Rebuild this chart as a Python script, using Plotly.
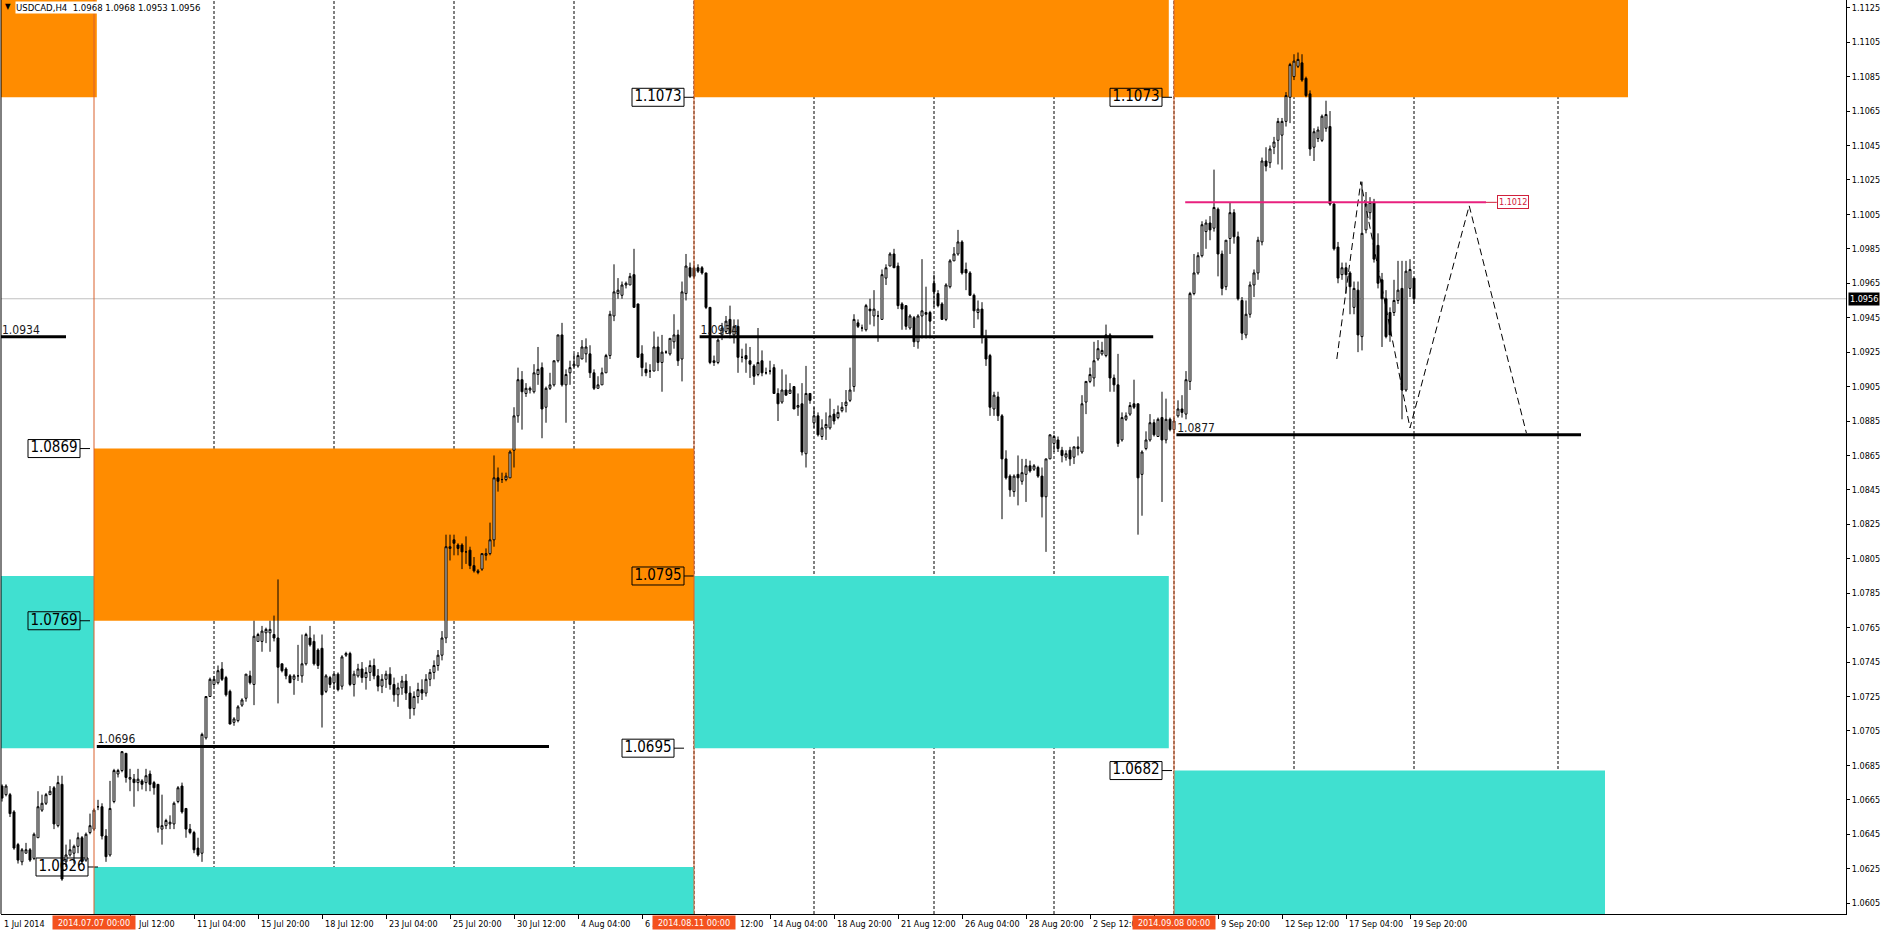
import plotly.graph_objects as go

# ---------------- data (USDCAD, H4) ----------------
bar_index = list(range(355))

open_ = [
    1.0668, 1.0673, 1.0668, 1.0668, 1.0658, 1.0639, 1.0629, 1.0634, 1.0636, 1.0631,
    1.0643, 1.0659, 1.0663, 1.0668, 1.0672, 1.0650, 1.0674, 1.0629, 1.0633, 1.0634,
    1.0638, 1.0643, 1.0630, 1.0646, 1.0648, 1.0661, 1.0661, 1.0644, 1.0633, 1.0664,
    1.0680, 1.0682, 1.0692, 1.0677, 1.0677, 1.0675, 1.0676, 1.0675, 1.0680, 1.0675,
    1.0674, 1.0648, 1.0650, 1.0651, 1.0651, 1.0664, 1.0673, 1.0660, 1.0648, 1.0646,
    1.0637, 1.0634, 1.0701, 1.0725, 1.0732, 1.0733, 1.0741, 1.0736, 1.0728, 1.0710,
    1.0711, 1.0720, 1.0724, 1.0737, 1.0732, 1.0757, 1.0757, 1.0762, 1.0762, 1.0761,
    1.0759, 1.0744, 1.0741, 1.0737, 1.0735, 1.0737, 1.0737, 1.0744, 1.0759, 1.0757,
    1.0752, 1.0753, 1.0728, 1.0736, 1.0733, 1.0738, 1.0731, 1.0749, 1.0750, 1.0732,
    1.0737, 1.0741, 1.0736, 1.0739, 1.0743, 1.0737, 1.0731, 1.0735, 1.0738, 1.0732,
    1.0726, 1.0730, 1.0734, 1.0727, 1.0718, 1.0725, 1.0729, 1.0727, 1.0735, 1.0739,
    1.0743, 1.0749, 1.0759, 1.0811, 1.0816, 1.0813, 1.0813, 1.0809, 1.0810, 1.0801,
    1.0797, 1.0799, 1.0807, 1.0808, 1.0816, 1.0852, 1.0851, 1.0851, 1.0852, 1.0868,
    1.0888, 1.0909, 1.0901, 1.0903, 1.0902, 1.0912, 1.0916, 1.0893, 1.0904, 1.0906,
    1.0920, 1.0935, 1.0906, 1.0913, 1.0917, 1.0917, 1.0921, 1.0924, 1.0924, 1.0913,
    1.0904, 1.0906, 1.0913, 1.0923, 1.0946, 1.0959, 1.0958, 1.0964, 1.0964, 1.0970,
    1.0953, 1.0924, 1.0915, 1.0914, 1.0914, 1.0928, 1.0919, 1.0925, 1.0924, 1.0931,
    1.0935, 1.0921, 1.0959, 1.0974, 1.0974, 1.0974, 1.0974, 1.0971, 1.0951, 1.0919,
    1.0919, 1.0935, 1.0937, 1.0944, 1.0935, 1.0940, 1.0922, 1.0923, 1.0920, 1.0917,
    1.0912, 1.0920, 1.0913, 1.0914, 1.0916, 1.0901, 1.0896, 1.0903, 1.0901, 1.0905,
    1.0893, 1.0895, 1.0866, 1.0901, 1.0884, 1.0888, 1.0876, 1.0881, 1.0881, 1.0889,
    1.0887, 1.0891, 1.0894, 1.0897, 1.0905, 1.0942, 1.0939, 1.0938, 1.0950, 1.0946,
    1.0946, 1.0944, 1.0968, 1.0975, 1.0982, 1.0975, 1.0953, 1.0952, 1.0939, 1.0945,
    1.0931, 1.0946, 1.0948, 1.0948, 1.0965, 1.0959, 1.0953, 1.0944, 1.0963, 1.0978,
    1.0982, 1.0989, 1.0973, 1.0971, 1.0958, 1.0948, 1.0950, 1.0933, 1.0923, 1.0892,
    1.0899, 1.0888, 1.0863, 1.0853, 1.0844, 1.0854, 1.0850, 1.0854, 1.0859, 1.0857,
    1.0858, 1.0853, 1.0841, 1.0863, 1.0872, 1.0874, 1.0868, 1.0864, 1.0868, 1.0864,
    1.0869, 1.0867, 1.0896, 1.0908, 1.0910, 1.0921, 1.0924, 1.0923, 1.0935, 1.0910,
    1.0906, 1.0874, 1.0886, 1.0889, 1.0895, 1.0895, 1.0854, 1.0869, 1.0874, 1.0884,
    1.0876, 1.0887, 1.0874, 1.0886, 1.0880, 1.0888, 1.0892, 1.0889, 1.0908, 1.0959,
    1.0971, 1.0981, 1.0995, 1.1000, 1.0997, 1.1008, 1.0982, 1.0963, 1.0991, 1.1006,
    1.0992, 1.0955, 1.0935, 1.0947, 1.0964, 1.0971, 1.0989, 1.1036, 1.1035, 1.1044,
    1.1048, 1.1051, 1.1059, 1.1073, 1.1085, 1.1091, 1.1093, 1.1084, 1.1075, 1.1044,
    1.1049, 1.1048, 1.1055, 1.1056, 1.1011, 1.0986, 1.0970, 1.0974, 1.0971, 1.0951,
    1.0961, 1.0934, 1.0996, 1.1006, 1.1012, 1.0987, 1.0967, 1.0956, 1.0948, 1.0948,
    1.0955, 1.0962, 1.0903, 1.0962, 1.0968,
]

high_ = [
    1.0675, 1.0674, 1.0674, 1.0669, 1.0659, 1.0640, 1.0637, 1.0640, 1.0637, 1.0646,
    1.0670, 1.0668, 1.0669, 1.0673, 1.0673, 1.0679, 1.0679, 1.0639, 1.0642, 1.0639,
    1.0646, 1.0644, 1.0646, 1.0657, 1.0660, 1.0665, 1.0663, 1.0648, 1.0676, 1.0683,
    1.0683, 1.0693, 1.0692, 1.0683, 1.0680, 1.0683, 1.0677, 1.0683, 1.0682, 1.0676,
    1.0674, 1.0668, 1.0654, 1.0656, 1.0664, 1.0673, 1.0675, 1.0660, 1.0651, 1.0647,
    1.0643, 1.0704, 1.0725, 1.0736, 1.0737, 1.0743, 1.0745, 1.0737, 1.0729, 1.0713,
    1.0720, 1.0724, 1.0738, 1.0740, 1.0769, 1.0762, 1.0766, 1.0765, 1.0769, 1.0772,
    1.0793, 1.0744, 1.0742, 1.0738, 1.0738, 1.0755, 1.0761, 1.0762, 1.0766, 1.0761,
    1.0753, 1.0761, 1.0738, 1.0737, 1.0738, 1.0739, 1.0749, 1.0751, 1.0751, 1.0740,
    1.0744, 1.0745, 1.0742, 1.0746, 1.0747, 1.0741, 1.0738, 1.0740, 1.0742, 1.0736,
    1.0733, 1.0737, 1.0738, 1.0731, 1.0728, 1.0733, 1.0735, 1.0738, 1.0741, 1.0746,
    1.0752, 1.0763, 1.0819, 1.0819, 1.0819, 1.0814, 1.0814, 1.0818, 1.0812, 1.0806,
    1.0799, 1.0808, 1.0811, 1.0826, 1.0865, 1.0858, 1.0855, 1.0855, 1.0868, 1.0893,
    1.0916, 1.0914, 1.0907, 1.0905, 1.0918, 1.0928, 1.0919, 1.0905, 1.0913, 1.0920,
    1.0935, 1.0942, 1.0915, 1.0920, 1.0924, 1.0925, 1.0932, 1.0933, 1.0929, 1.0915,
    1.0911, 1.0916, 1.0924, 1.0949, 1.0976, 1.0968, 1.0966, 1.0966, 1.0971, 1.0985,
    1.0953, 1.0929, 1.0919, 1.0918, 1.0937, 1.0934, 1.0935, 1.0926, 1.0933, 1.0947,
    1.0938, 1.0966, 1.0982, 1.0977, 1.0976, 1.0976, 1.0975, 1.0971, 1.0951, 1.0923,
    1.0933, 1.0942, 1.0946, 1.0952, 1.0944, 1.0944, 1.0927, 1.0930, 1.0928, 1.0918,
    1.0939, 1.0926, 1.0916, 1.0920, 1.0918, 1.0904, 1.0915, 1.0912, 1.0907, 1.0905,
    1.0901, 1.0907, 1.0917, 1.0901, 1.0893, 1.0890, 1.0886, 1.0890, 1.0898, 1.0892,
    1.0894, 1.0896, 1.0903, 1.0916, 1.0947, 1.0944, 1.0941, 1.0953, 1.0956, 1.0961,
    1.0949, 1.0973, 1.0976, 1.0983, 1.0985, 1.0977, 1.0954, 1.0952, 1.0947, 1.0946,
    1.0947, 1.0979, 1.0963, 1.0949, 1.0970, 1.0961, 1.0954, 1.0965, 1.0979, 1.0986,
    1.0996, 1.0990, 1.0977, 1.0972, 1.0959, 1.0955, 1.0954, 1.0938, 1.0924, 1.0902,
    1.0902, 1.0889, 1.0868, 1.0854, 1.0854, 1.0865, 1.0863, 1.0863, 1.0862, 1.0860,
    1.0859, 1.0858, 1.0863, 1.0877, 1.0877, 1.0876, 1.0870, 1.0868, 1.0870, 1.0870,
    1.0876, 1.0900, 1.0908, 1.0916, 1.0931, 1.0932, 1.0931, 1.0941, 1.0936, 1.0912,
    1.0924, 1.0890, 1.0890, 1.0896, 1.0909, 1.0895, 1.0868, 1.0879, 1.0889, 1.0886,
    1.0887, 1.0902, 1.0898, 1.0887, 1.0887, 1.0897, 1.0900, 1.0914, 1.0960, 1.0982,
    1.0983, 1.1001, 1.1002, 1.1004, 1.1031, 1.1009, 1.0984, 1.0990, 1.1012, 1.1008,
    1.0995, 1.0957, 1.0955, 1.0966, 1.0973, 1.0992, 1.1038, 1.1044, 1.1045, 1.1050,
    1.1061, 1.1061, 1.1076, 1.1093, 1.1098, 1.1099, 1.1098, 1.1085, 1.1077, 1.1055,
    1.1056, 1.1063, 1.1071, 1.1065, 1.1012, 1.0989, 1.0977, 1.0977, 1.0972, 1.0966,
    1.0966, 1.1024, 1.1018, 1.1015, 1.1014, 1.0994, 1.0971, 1.0961, 1.0951, 1.0967,
    1.0978, 1.0978, 1.0978, 1.0979, 1.0968,
]

low_ = [
    1.0665, 1.0664, 1.0667, 1.0655, 1.0636, 1.0628, 1.0627, 1.0634, 1.0629, 1.0630,
    1.0643, 1.0658, 1.0662, 1.0668, 1.0648, 1.0649, 1.0618, 1.0626, 1.0632, 1.0628,
    1.0634, 1.0628, 1.0629, 1.0645, 1.0647, 1.0659, 1.0642, 1.0629, 1.0632, 1.0663,
    1.0678, 1.0681, 1.0675, 1.0670, 1.0661, 1.0670, 1.0671, 1.0670, 1.0670, 1.0668,
    1.0646, 1.0639, 1.0648, 1.0648, 1.0648, 1.0663, 1.0657, 1.0643, 1.0645, 1.0634,
    1.0632, 1.0629, 1.0700, 1.0725, 1.0731, 1.0732, 1.0734, 1.0725, 1.0709, 1.0708,
    1.0710, 1.0719, 1.0722, 1.0732, 1.0720, 1.0757, 1.0751, 1.0756, 1.0751, 1.0757,
    1.0721, 1.0739, 1.0735, 1.0733, 1.0726, 1.0734, 1.0733, 1.0743, 1.0754, 1.0743,
    1.0741, 1.0707, 1.0727, 1.0730, 1.0729, 1.0728, 1.0729, 1.0748, 1.0731, 1.0725,
    1.0736, 1.0733, 1.0729, 1.0734, 1.0735, 1.0728, 1.0727, 1.0730, 1.0729, 1.0722,
    1.0719, 1.0726, 1.0723, 1.0712, 1.0714, 1.0721, 1.0723, 1.0725, 1.0731, 1.0735,
    1.0740, 1.0746, 1.0756, 1.0804, 1.0807, 1.0807, 1.0799, 1.0802, 1.0799, 1.0797,
    1.0796, 1.0798, 1.0804, 1.0807, 1.0812, 1.0844, 1.0849, 1.0850, 1.0852, 1.0858,
    1.0884, 1.0880, 1.0899, 1.0901, 1.0901, 1.0906, 1.0875, 1.0884, 1.0903, 1.0905,
    1.0919, 1.0905, 1.0884, 1.0906, 1.0916, 1.0916, 1.0921, 1.0919, 1.0910, 1.0903,
    1.0904, 1.0906, 1.0913, 1.0921, 1.0943, 1.0956, 1.0956, 1.0962, 1.0964, 1.0951,
    1.0922, 1.0911, 1.0911, 1.0910, 1.0914, 1.0914, 1.0902, 1.0924, 1.0923, 1.0927,
    1.0917, 1.0908, 1.0955, 1.0968, 1.0968, 1.0971, 1.0970, 1.0950, 1.0918, 1.0917,
    1.0918, 1.0932, 1.0936, 1.0933, 1.0930, 1.0913, 1.0919, 1.0913, 1.0910, 1.0906,
    1.0911, 1.0911, 1.0912, 1.0912, 1.0901, 1.0885, 1.0895, 1.0900, 1.0901, 1.0892,
    1.0888, 1.0865, 1.0858, 1.0895, 1.0881, 1.0876, 1.0874, 1.0874, 1.0880, 1.0883,
    1.0886, 1.0890, 1.0890, 1.0896, 1.0902, 1.0939, 1.0937, 1.0937, 1.0941, 1.0940,
    1.0931, 1.0944, 1.0964, 1.0975, 1.0974, 1.0950, 1.0938, 1.0938, 1.0938, 1.0928,
    1.0927, 1.0933, 1.0933, 1.0933, 1.0951, 1.0951, 1.0944, 1.0943, 1.0962, 1.0978,
    1.0981, 1.0970, 1.0961, 1.0958, 1.0939, 1.0944, 1.0930, 1.0917, 1.0888, 1.0888,
    1.0885, 1.0828, 1.0851, 1.0841, 1.0841, 1.0836, 1.0848, 1.0838, 1.0855, 1.0856,
    1.0852, 1.0829, 1.0809, 1.0863, 1.0867, 1.0867, 1.0861, 1.0862, 1.0859, 1.0860,
    1.0865, 1.0866, 1.0889, 1.0907, 1.0905, 1.0920, 1.0923, 1.0922, 1.0902, 1.0902,
    1.0870, 1.0873, 1.0885, 1.0888, 1.0892, 1.0819, 1.0830, 1.0868, 1.0873, 1.0876,
    1.0876, 1.0838, 1.0872, 1.0879, 1.0878, 1.0887, 1.0887, 1.0886, 1.0903, 1.0958,
    1.0970, 1.0980, 1.0985, 1.0990, 1.0995, 1.0969, 1.0958, 1.0961, 1.0982, 1.0988,
    1.0955, 1.0932, 1.0933, 1.0945, 1.0957, 1.0967, 1.0987, 1.1030, 1.1032, 1.1040,
    1.1034, 1.1031, 1.1056, 1.1058, 1.1083, 1.1090, 1.1082, 1.1073, 1.1039, 1.1036,
    1.1047, 1.1047, 1.1053, 1.1010, 1.0984, 1.0965, 1.0967, 1.0959, 1.0947, 1.0947,
    1.0925, 1.0926, 1.0994, 1.1002, 1.0977, 1.0962, 1.0928, 1.0933, 1.0931, 1.0946,
    1.0953, 1.0886, 1.0902, 1.0957, 1.0953,
]

close_ = [
    1.0673, 1.0666, 1.0673, 1.0657, 1.0637, 1.0630, 1.0636, 1.0636, 1.0630, 1.0645,
    1.0661, 1.0663, 1.0668, 1.0670, 1.0651, 1.0675, 1.0619, 1.0633, 1.0636, 1.0638,
    1.0643, 1.0629, 1.0645, 1.0650, 1.0659, 1.0661, 1.0644, 1.0632, 1.0660, 1.0682,
    1.0682, 1.0693, 1.0678, 1.0678, 1.0675, 1.0677, 1.0674, 1.0679, 1.0674, 1.0672,
    1.0649, 1.0650, 1.0653, 1.0652, 1.0663, 1.0672, 1.0658, 1.0648, 1.0646, 1.0636,
    1.0633, 1.0703, 1.0725, 1.0735, 1.0735, 1.0740, 1.0735, 1.0726, 1.0709, 1.0712,
    1.0719, 1.0723, 1.0738, 1.0733, 1.0760, 1.0761, 1.0763, 1.0764, 1.0764, 1.0759,
    1.0742, 1.0740, 1.0737, 1.0733, 1.0737, 1.0737, 1.0744, 1.0761, 1.0755, 1.0744,
    1.0743, 1.0726, 1.0737, 1.0732, 1.0738, 1.0729, 1.0748, 1.0750, 1.0732, 1.0738,
    1.0741, 1.0736, 1.0739, 1.0743, 1.0737, 1.0731, 1.0735, 1.0738, 1.0732, 1.0726,
    1.0730, 1.0734, 1.0727, 1.0718, 1.0725, 1.0729, 1.0727, 1.0735, 1.0739, 1.0743,
    1.0749, 1.0759, 1.0812, 1.0812, 1.0814, 1.0811, 1.0809, 1.0809, 1.0801, 1.0798,
    1.0798, 1.0808, 1.0808, 1.0816, 1.0852, 1.0850, 1.0851, 1.0853, 1.0867, 1.0888,
    1.0909, 1.0902, 1.0904, 1.0904, 1.0913, 1.0915, 1.0892, 1.0904, 1.0906, 1.0920,
    1.0935, 1.0906, 1.0912, 1.0916, 1.0918, 1.0923, 1.0928, 1.0928, 1.0913, 1.0904,
    1.0906, 1.0913, 1.0923, 1.0947, 1.0960, 1.0961, 1.0964, 1.0965, 1.0969, 1.0951,
    1.0922, 1.0916, 1.0913, 1.0914, 1.0928, 1.0919, 1.0925, 1.0925, 1.0933, 1.0935,
    1.0920, 1.0960, 1.0975, 1.0969, 1.0969, 1.0972, 1.0971, 1.0951, 1.0919, 1.0920,
    1.0932, 1.0939, 1.0943, 1.0936, 1.0940, 1.0922, 1.0922, 1.0921, 1.0918, 1.0911,
    1.0919, 1.0913, 1.0913, 1.0914, 1.0901, 1.0895, 1.0903, 1.0900, 1.0903, 1.0892,
    1.0894, 1.0867, 1.0901, 1.0897, 1.0888, 1.0877, 1.0881, 1.0883, 1.0888, 1.0885,
    1.0890, 1.0893, 1.0896, 1.0903, 1.0944, 1.0940, 1.0939, 1.0952, 1.0949, 1.0950,
    1.0946, 1.0970, 1.0974, 1.0982, 1.0974, 1.0952, 1.0950, 1.0940, 1.0946, 1.0931,
    1.0946, 1.0949, 1.0947, 1.0943, 1.0960, 1.0952, 1.0944, 1.0964, 1.0978, 1.0982,
    1.0989, 1.0971, 1.0971, 1.0958, 1.0949, 1.0950, 1.0934, 1.0921, 1.0893, 1.0900,
    1.0888, 1.0863, 1.0852, 1.0845, 1.0853, 1.0852, 1.0855, 1.0859, 1.0856, 1.0859,
    1.0853, 1.0841, 1.0863, 1.0877, 1.0876, 1.0869, 1.0865, 1.0866, 1.0863, 1.0870,
    1.0870, 1.0895, 1.0908, 1.0912, 1.0920, 1.0927, 1.0926, 1.0935, 1.0910, 1.0906,
    1.0872, 1.0887, 1.0888, 1.0894, 1.0893, 1.0852, 1.0867, 1.0874, 1.0884, 1.0877,
    1.0886, 1.0874, 1.0886, 1.0880, 1.0885, 1.0892, 1.0890, 1.0909, 1.0959, 1.0971,
    1.0981, 1.0999, 1.1000, 1.0996, 1.1009, 1.0982, 1.0962, 1.0990, 1.1006, 1.0992,
    1.0956, 1.0936, 1.0947, 1.0964, 1.0971, 1.0990, 1.1036, 1.1033, 1.1043, 1.1047,
    1.1059, 1.1059, 1.1074, 1.1092, 1.1094, 1.1095, 1.1083, 1.1074, 1.1043, 1.1053,
    1.1054, 1.1062, 1.1063, 1.1011, 1.0985, 1.0968, 1.0974, 1.0970, 1.0963, 1.0962,
    1.0935, 1.0994, 1.1011, 1.1012, 1.0979, 1.0965, 1.0956, 1.0934, 1.0935, 1.0955,
    1.0961, 1.0903, 1.0972, 1.0973, 1.0956,
]

# time axis labels (bar index -> text as visible in the reference;
# labels partly covered by the vertical-line date boxes keep only their visible part)
time_tick_bars = [33, 49, 65, 81, 97, 113, 129, 145, 161, 177, 193, 209, 225,
                  241, 257, 273, 289, 305, 321, 337, 353]
time_tick_text = ["Jul 12:00", "11 Jul 04:00", "15 Jul 20:00", "18 Jul 12:00",
                  "23 Jul 04:00", "25 Jul 20:00", "30 Jul 12:00", "4 Aug 04:00",
                  "6 A", "12:00", "14 Aug 04:00", "18 Aug 20:00",
                  "21 Aug 12:00", "26 Aug 04:00", "28 Aug 20:00", "2 Sep 12:0",
                  "", "9 Sep 20:00", "12 Sep 12:00", "17 Sep 04:00",
                  "19 Sep 20:00"]
first_time_label = "1 Jul 2014"

# price axis labels
price_ticks = [1.0605, 1.0625, 1.0645, 1.0665, 1.0685, 1.0705, 1.0725, 1.0745,
               1.0765, 1.0785, 1.0805, 1.0825, 1.0845, 1.0865, 1.0885, 1.0905,
               1.0925, 1.0945, 1.0965, 1.0985, 1.1005, 1.1025, 1.1045, 1.1065,
               1.1085, 1.1105, 1.1125]

# supply (orange) and demand (turquoise) zones: start bar, end bar, low, high
supply_start = [-2, 24, 174, 294]
supply_end = [24.7, 174, 292.7, 407.5]
supply_low = [1.1073, 1.0769, 1.1073, 1.1073]
supply_high = [1.1200, 1.0869, 1.1200, 1.1200]
demand_start = [-2, 24, 174, 294]
demand_end = [24, 174, 292.7, 401.75]
demand_low = [1.0695, 1.0500, 1.0695, 1.0500]
demand_high = [1.0795, 1.0626, 1.0795, 1.0682]

# price-label objects: price and anchor bar
plabel_price = [1.0869, 1.0769, 1.0626, 1.1073, 1.0795, 1.0695, 1.1073, 1.0682]
plabel_bar = [23, 23, 25, 174, 174, 171.5, 293.5, 293.5]

# month start vertical lines
month_bars = [24, 174, 294]
month_text = ["2014.07.07 00:00", "2014.08.11 00:00", "2014.09.08 00:00"]
# weekly separators
week_bars = [54, 84, 114, 144, 174, 204, 234, 264, 294, 324, 354, 390]

# horizontal levels
level_price = [1.0934, 1.0696, 1.0934, 1.0877]
level_start = [0, 24.7, 175.4, 294.6]
level_end = [17, 137.75, 288.8, 395.75]
level_text = ["1.0934", "1.0696", "1.0934", "1.0877"]
level_text_bar = [1.0, 24.9, 175.6, 294.8]

target_price = 1.1012
target_start = 296.8
target_end = 372

# projected zig-zag path
zigzag_bars = [334.7, 340.7, 353.0, 367.8, 382.1]
zigzag_prices = [1.0921, 1.1024, 1.0881, 1.1010, 1.0878]

current_price = 1.0956
header_text = "USDCAD,H4\u00a0\u00a01.0968 1.0968 1.0953 1.0956"

# ---------------- figure ----------------
FONT = "DejaVu Sans Condensed, DejaVu Sans, sans-serif"
ORANGE = "#FF8C00"
TURQ = "#40E0D0"
VLINE = "#D9602C"
VLABEL = "#F4511E"

fig = go.Figure()

shapes = []
for x0, x1, lo, hi in zip(supply_start, supply_end, supply_low, supply_high):
    shapes.append(dict(type="rect", xref="x", yref="y", x0=x0, x1=x1, y0=lo, y1=hi,
                       fillcolor=ORANGE, line=dict(width=0), layer="below"))
for x0, x1, lo, hi in zip(demand_start, demand_end, demand_low, demand_high):
    shapes.append(dict(type="rect", xref="x", yref="y", x0=x0, x1=x1, y0=lo, y1=hi,
                       fillcolor=TURQ, line=dict(width=0), layer="below"))
for b in week_bars:
    shapes.append(dict(type="line", xref="x", yref="paper", x0=b, x1=b, y0=0, y1=1,
                       line=dict(color="black", width=1, dash="3px,2px"), layer="below"))
shapes.append(dict(type="line", xref="paper", yref="y", x0=0, x1=1,
                   y0=current_price, y1=current_price,
                   line=dict(color="#C0C0C0", width=1), layer="below"))
for p, b in zip(plabel_price, plabel_bar):
    shapes.append(dict(type="rect", xref="x", yref="y", xsizemode="pixel", ysizemode="pixel",
                       xanchor=b, yanchor=p, x0=-62, x1=-10, y0=-9, y1=9,
                       line=dict(color="black", width=1), fillcolor="rgba(0,0,0,0)",
                       layer="below"))
    shapes.append(dict(type="line", xref="x", yref="y", x0=b - 2.5, x1=b, y0=p, y1=p,
                       line=dict(color="black", width=1), layer="below"))
for b in month_bars:
    shapes.append(dict(type="line", xref="x", yref="paper", x0=b, x1=b, y0=0, y1=1,
                       line=dict(color=VLINE, width=1), layer="above"))
for p, x0, x1 in zip(level_price, level_start, level_end):
    shapes.append(dict(type="line", xref="x", yref="y", x0=x0, x1=x1, y0=p, y1=p,
                       line=dict(color="black", width=3), layer="above"))
shapes.append(dict(type="line", xref="x", yref="y", x0=target_start, x1=target_end,
                   y0=target_price, y1=target_price,
                   line=dict(color="#E8207E", width=2), layer="above"))
shapes.append(dict(type="line", xref="x", yref="y", x0=target_end, x1=target_end + 2.7,
                   y0=target_price, y1=target_price,
                   line=dict(color="#D0203C", width=1), layer="above"))
shapes.append(dict(type="line", xref="paper", yref="paper", x0=0, x1=0, y0=0, y1=1,
                   line=dict(color="black", width=1), layer="above"))

# texts that lie under the candles
fig.add_trace(go.Scatter(
    x=level_text_bar, y=level_price, mode="text", text=level_text,
    textposition="top right", textfont=dict(family=FONT, size=12, color="#1a1a1a"),
    hoverinfo="skip", showlegend=False, cliponaxis=False))
fig.add_trace(go.Scatter(
    x=[b - 9 for b in plabel_bar], y=plabel_price, mode="text",
    text=[f"{p:.4f}" for p in plabel_price], textposition="middle center",
    textfont=dict(family=FONT, size=15, color="black"),
    hoverinfo="skip", showlegend=False))

fig.add_trace(go.Candlestick(
    x=bar_index, open=open_, high=high_, low=low_, close=close_,
    increasing=dict(fillcolor="white", line=dict(color="black", width=1)),
    decreasing=dict(fillcolor="black", line=dict(color="black", width=1)),
    whiskerwidth=0, hoverinfo="skip", showlegend=False))

fig.add_trace(go.Scatter(
    x=zigzag_bars, y=zigzag_prices, mode="lines",
    line=dict(color="black", width=1, dash="7px,4px"),
    hoverinfo="skip", showlegend=False))

# pixel nudges for labels whose beginning is hidden under a date box
label_shift = {"Jul 12:00": 6, "12:00": 32}

annotations = []
annotations.append(dict(x=0, xref="paper", y=0, yref="paper", text=first_time_label,
                        xanchor="left", yanchor="top", xshift=1, yshift=-3,
                        showarrow=False, font=dict(family=FONT, size=9, color="black")))
for b, t in zip(time_tick_bars, time_tick_text):
    if not t:
        continue
    annotations.append(dict(x=b, xref="x", y=0, yref="paper", text=t,
                            xanchor="left", yanchor="top", xshift=label_shift.get(t, 1),
                            yshift=-3, showarrow=False,
                            font=dict(family=FONT, size=9, color="black")))
for b, t in zip(month_bars, month_text):
    annotations.append(dict(x=b, xref="x", y=0, yref="paper", text=t,
                            xanchor="center", yanchor="top", yshift=-1,
                            showarrow=False, bgcolor=VLABEL, borderpad=1,
                            width=80, height=11,
                            font=dict(family=FONT, size=9, color="white")))
annotations.append(dict(x=1, xref="paper", y=current_price, yref="y",
                        text=f"{current_price:.4f}", xanchor="left", yanchor="middle",
                        xshift=2, showarrow=False, bgcolor="black", borderpad=1,
                        font=dict(family=FONT, size=9, color="white")))
annotations.append(dict(x=target_end + 2.7, xref="x", y=target_price, yref="y",
                        text=f"{target_price:.4f}", xanchor="left", yanchor="middle",
                        showarrow=False, bgcolor="white", bordercolor="#D0203C",
                        borderwidth=1, borderpad=1,
                        font=dict(family=FONT, size=9, color="#D0203C")))
annotations.append(dict(x=0, xref="paper", y=1, yref="paper", text="\u25bc",
                        xanchor="left", yanchor="top", xshift=2, yshift=0,
                        showarrow=False, font=dict(family=FONT, size=8, color="black")))
annotations.append(dict(x=0, xref="paper", y=1, yref="paper", text=header_text,
                        xanchor="left", yanchor="top", xshift=14, yshift=-1,
                        showarrow=False, bgcolor="white", borderpad=0,
                        font=dict(family=FONT, size=9.5, color="black")))

fig.update_layout(
    width=1888, height=936,
    margin=dict(l=1, r=42, t=0, b=22),
    paper_bgcolor="white", plot_bgcolor="white",
    shapes=shapes, annotations=annotations,
    showlegend=False, hovermode=False,
    xaxis=dict(range=[0.75, 462], showgrid=False, zeroline=False,
               showline=True, linecolor="black", linewidth=1,
               ticks="outside", ticklen=4, tickcolor="black",
               tickvals=time_tick_bars, showticklabels=False,
               rangeslider=dict(visible=False), fixedrange=True),
    yaxis=dict(range=[1.05987, 1.11295], side="right", showgrid=False, zeroline=False,
               showline=True, linecolor="black", linewidth=1,
               ticks="outside", ticklen=3, tickcolor="black",
               tickvals=price_ticks, ticktext=[f"{v:.4f}" for v in price_ticks],
               tickfont=dict(family=FONT, size=9, color="black"), fixedrange=True),
)

fig.write_html("out.html", config={"displayModeBar": False},
               post_script="document.body.style.margin='0';document.body.style.overflow='hidden';")
